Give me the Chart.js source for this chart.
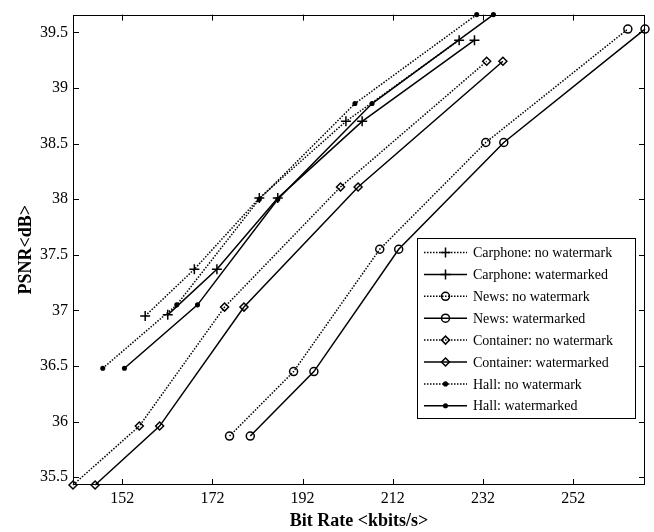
<!DOCTYPE html>
<html lang="en">
<head>
<meta charset="UTF-8">
<title>PSNR vs Bit Rate</title>
<script src="https://cdn.jsdelivr.net/npm/chart.js"></script>
<style>
  body { margin: 0; background: #fff; }
</style>
</head>
<body>
<canvas id="myChart" width="654" height="532"></canvas>
<script>
// tick labels
var xTicks = [152, 172, 192, 212, 232, 252];
var yTicks = [35.5, 36, 36.5, 37, 37.5, 38, 38.5, 39, 39.5];

// (kbits/s, dB)
var carphoneNoWmX = [157.1, 168.0, 182.4, 201.6, 226.7];
var carphoneNoWmY = [36.95, 37.37, 38.01, 38.70, 39.43];
var carphoneWmX   = [162.1, 173.0, 186.5, 205.2, 230.1];
var carphoneWmY   = [36.96, 37.37, 38.01, 38.70, 39.43];

var newsNoWmX = [175.8, 190.0, 209.1, 232.6, 264.1];
var newsNoWmY = [35.87, 36.45, 37.55, 38.51, 39.53];
var newsWmX   = [180.4, 194.5, 213.3, 236.6, 267.9];
var newsWmY   = [35.87, 36.45, 37.55, 38.51, 39.53];

var containerNoWmX = [141.1, 155.8, 174.7, 200.4, 232.8];
var containerNoWmY = [35.43, 35.96, 37.03, 38.11, 39.24];
var containerWmX   = [146.0, 160.3, 179.0, 204.3, 236.4];
var containerWmY   = [35.43, 35.96, 37.03, 38.11, 39.24];

var hallNoWmX = [147.7, 164.1, 182.4, 203.6, 230.6];
var hallNoWmY = [36.48, 37.05, 38.00, 38.86, 39.66];
var hallWmX   = [152.5, 168.7, 186.5, 207.4, 234.3];
var hallWmY   = [36.48, 37.05, 38.00, 38.86, 39.66];

var serif = "'Liberation Serif', 'Times New Roman', serif";

function pts(xs, ys) {
    return xs.map(function (x, i) { return { x: x, y: ys[i] }; });
}

function ds(label, xs, ys, dotted, style, r, filled) {
    return {
        label: label,
        data: pts(xs, ys),
        showLine: true,
        borderColor: '#000',
        borderWidth: 1.5,
        borderDash: dotted ? [1.5, 1.5] : [],
        pointStyle: style,
        pointRadius: r,
        pointHoverRadius: r,
        pointBorderWidth: 1.5,
        pointBorderColor: '#000',
        pointBackgroundColor: filled ? '#000' : 'rgba(0,0,0,0)',
        clip: false
    };
}

var datasets = [
    ds('Carphone: no watermark', carphoneNoWmX, carphoneNoWmY, true, 'cross', 5, false),
    ds('Carphone: watermarked', carphoneWmX, carphoneWmY, false, 'cross', 5, false),
    ds('News: no watermark', newsNoWmX, newsNoWmY, true, 'circle', 4, false),
    ds('News: watermarked', newsWmX, newsWmY, false, 'circle', 4, false),
    ds('Container: no watermark', containerNoWmX, containerNoWmY, true, 'rectRot', 4, false),
    ds('Container: watermarked', containerWmX, containerWmY, false, 'rectRot', 4, false),
    ds('Hall: no watermark', hallNoWmX, hallNoWmY, true, 'circle', 1.8, true),
    ds('Hall: watermarked', hallWmX, hallWmY, false, 'circle', 1.8, true)
];

// frame, inward ticks on all sides, and a matlab-like legend box
var matlabBits = {
    id: 'matlabBits',
    afterDraw: function (chart) {
        var c = chart.ctx, a = chart.chartArea;
        var sx = chart.scales.x, sy = chart.scales.y;
        c.save();
        c.strokeStyle = '#000';
        c.lineWidth = 1;
        c.setLineDash([]);
        c.strokeRect(Math.round(a.left) + 0.5, Math.round(a.top) + 0.5,
            Math.round(a.right - a.left) - 1, Math.round(a.bottom - a.top) - 1);
        c.beginPath();
        xTicks.forEach(function (v) {
            var p = Math.round(sx.getPixelForValue(v)) + 0.5;
            c.moveTo(p, a.bottom); c.lineTo(p, a.bottom - 6);
            c.moveTo(p, a.top); c.lineTo(p, a.top + 6);
        });
        yTicks.forEach(function (v) {
            var p = Math.round(sy.getPixelForValue(v)) + 0.5;
            c.moveTo(a.left, p); c.lineTo(a.left + 6, p);
            c.moveTo(a.right, p); c.lineTo(a.right - 6, p);
        });
        c.stroke();

        // legend
        var bx = 417, by = 238, bw = 218, bh = 180;
        c.fillStyle = '#fff';
        c.fillRect(bx, by, bw, bh);
        c.strokeRect(bx + 0.5, by + 0.5, bw, bh);
        c.font = '14px ' + serif;
        c.textBaseline = 'middle';
        chart.data.datasets.forEach(function (d, i) {
            var y = 252.5 + i * 21.9;
            c.strokeStyle = '#000';
            c.lineWidth = 1.5;
            c.setLineDash(d.borderDash);
            c.beginPath();
            c.moveTo(bx + 7, y); c.lineTo(bx + 50, y);
            c.stroke();
            c.setLineDash([]);
            c.fillStyle = d.pointBackgroundColor;
            Chart.helpers.drawPoint(c, {
                pointStyle: d.pointStyle,
                radius: d.pointRadius,
                rotation: 0,
                borderWidth: 1.5
            }, bx + 28.5, y);
            c.fillStyle = '#000';
            c.fillText(d.label, bx + 56, y + 1);
        });
        c.restore();
    }
};

var ctx = document.getElementById('myChart');
var myChart = new Chart(ctx, {
    type: 'scatter',
    data: { datasets: datasets },
    options: {
        responsive: false,
        animation: false,
        layout: { padding: { top: 10, right: 9, left: 0, bottom: 0 } },
        plugins: {
            legend: { display: false },
            tooltip: { enabled: false }
        },
        scales: {
            x: {
                type: 'linear',
                min: 141.1,
                max: 267.9,
                afterBuildTicks: function (s) {
                    s.ticks = xTicks.map(function (v) { return { value: v }; });
                },
                afterFit: function (s) { s.height = 47; },
                grid: { display: false, drawTicks: false },
                border: { display: false },
                ticks: {
                    color: '#000',
                    padding: 4,
                    maxRotation: 0,
                    font: { family: serif, size: 16 }
                },
                title: {
                    display: true,
                    text: 'Bit Rate <kbits/s>',
                    color: '#000',
                    padding: 0,
                    font: { family: serif, size: 18, weight: 'bold' }
                }
            },
            y: {
                type: 'linear',
                min: 35.43,
                max: 39.66,
                afterBuildTicks: function (s) {
                    s.ticks = yTicks.map(function (v) { return { value: v }; });
                },
                afterFit: function (s) { s.width = 73; },
                grid: { display: false, drawTicks: false },
                border: { display: false },
                ticks: {
                    color: '#000',
                    padding: 5,
                    font: { family: serif, size: 16 },
                    callback: function (v) { return String(v); }
                },
                title: {
                    display: true,
                    text: 'PSNR<dB>',
                    color: '#000',
                    padding: { top: 16, bottom: 0 },
                    font: { family: serif, size: 18, weight: 'bold' }
                }
            }
        }
    },
    plugins: [matlabBits]
});
</script>
</body>
</html>
